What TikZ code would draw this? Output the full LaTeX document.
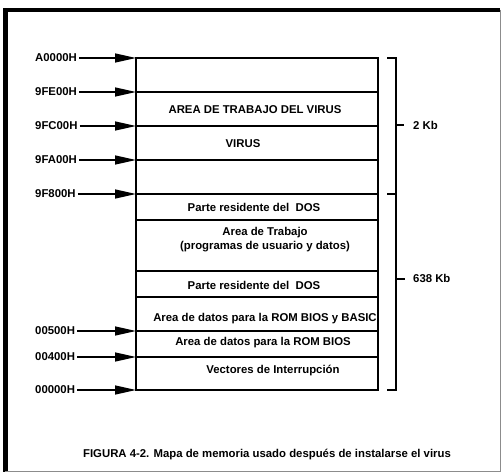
\documentclass[tikz,border=0pt]{standalone}
\usepackage{fontspec}
\setmainfont{Liberation Sans}
\usetikzlibrary{arrows.meta,positioning}

\begin{document}
\begin{tikzpicture}[
  x=1bp, y=-1bp,
  font=\fontsize{11.4}{14}\selectfont\bfseries,
  addr/.style={anchor=west, inner sep=2pt},
  txt/.style={inner sep=1pt, align=center},
  arr/.style={-{Triangle[length=21bp,width=9bp]}, line width=1.4bp},
  cell/.style={line width=1.6bp}
]
\useasboundingbox (0,0) rectangle (504,472);
% frame
\draw[line width=4.5bp] (5.5,472) -- (5.5,10) -- (500,10);
\draw[black!45, line width=1bp] (500,10) -- (500,471) -- (5,471);

% memory map
\draw[cell] (136,58) rectangle (378,390);
\foreach \y in {92,126,160,194,220,271,297,331,357}
  \draw[cell] (136,\y) -- (378,\y);

% addresses
\foreach \name/\y/\lab in {a0/58/A0000H, a1/92/9FE00H, a2/126/9FC00H,
    a3/160/9FA00H, a4/194/9F800H, a5/331/00500H, a6/357/00400H, a7/390/00000H} {
  \node[addr] (\name) at (33,\y) {\lab};
  \coordinate (e\name) at (136,\y);
  \draw[arr] (\name.east) -- (e\name);
}

% contents
\node[txt] (work) at (255,110) {AREA DE TRABAJO DEL VIRUS};
\node[txt] (virus) at (243,144) {VIRUS};
\node[txt] (dos1) at (254,207) {Parte residente del\ \ DOS};
\node[txt] (user) at (265,240) {Area de Trabajo\\(programas de usuario y datos)};
\node[txt] (dos2) at (254,285) {Parte residente del\ \ DOS};
\node[txt] (basic) at (265,319) {Area de datos para la ROM BIOS y BASIC};
\node[txt] (bios) at (263,343) {Area de datos para la ROM BIOS};
\node[txt] (vect) at (273,371) {Vectores de Interrupción};

% sizes
\draw[cell] (387,58) -- (396,58) -- (396,390) -- (387,390);
\draw[cell] (387,194) -- (396,194);
\coordinate (b2) at (396,125);
\coordinate (b638) at (396,279);
\node[anchor=west, inner sep=0pt] (kb2) at (413,125) {2 Kb};
\node[anchor=west, inner sep=0pt] (kb638) at (413,278) {638 Kb};
\draw[cell] (b2) -- ++(8,0);
\draw[cell] (b638) -- ++(9,0);

\node (cap) at (267,455) {FIGURA 4-2. Mapa de memoria usado después de instalarse el virus};
\end{tikzpicture}
\end{document}
